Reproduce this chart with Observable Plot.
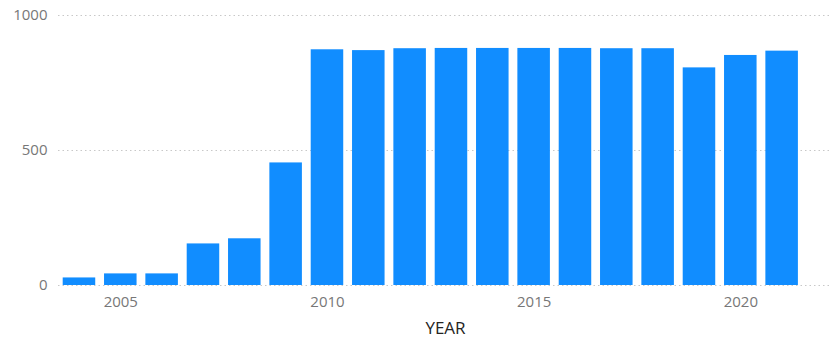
<!DOCTYPE html>
<html>
<head>
<meta charset="utf-8">
<script src="https://cdn.jsdelivr.net/npm/d3@7"></script>
<script src="https://cdn.jsdelivr.net/npm/@observablehq/plot@0.6"></script>
<style>
  html, body { margin: 0; padding: 0; background: #fff; }
  #chart svg { display: block; }
</style>
</head>
<body>
<div id="chart"></div>
<script>
const years = [2004, 2005, 2006, 2007, 2008, 2009, 2010, 2011, 2012, 2013, 2014, 2015, 2016, 2017, 2018, 2019, 2020, 2021];
const values = [28, 43, 43, 154, 173, 454, 873, 870, 877, 878, 878, 878, 878, 877, 877, 806, 852, 868];
const xTicks = [2005, 2010, 2015, 2020];
const yTicks = [0, 500, 1000];

const data = years.map((year, i) => ({year, value: values[i]}));

const chart = Plot.plot({
  width: 832,
  height: 340,
  marginLeft: 58,
  marginRight: 0,
  marginTop: 15,
  marginBottom: 55,
  style: {fontFamily: "'Open Sans', sans-serif", background: "#fff"},
  x: {type: "band", domain: years, range: [62.7, 797.9], paddingInner: 0.213, paddingOuter: 0, round: false},
  y: {domain: [0, 1000]},
  marks: [
    Plot.gridY(yTicks, {stroke: "#c8c8c8", strokeOpacity: 1, strokeDasharray: "1.5,3"}),
    Plot.barY(data, {x: "year", y: "value", fill: "#118DFF"}),
    Plot.axisY({ticks: yTicks, tickSize: 0, tickPadding: 11, tickFormat: d => String(d), label: null, fontSize: 15, color: "#777"}),
    Plot.axisX({ticks: xTicks, tickSize: 0, tickPadding: 11, tickFormat: d => String(d), fontSize: 15, color: "#777", label: null}),
    Plot.axisX({ticks: [], tickSize: 0, label: "YEAR", labelAnchor: "center", labelArrow: "none", labelOffset: 48, fontSize: 17, color: "#252423"})
  ]
});

document.getElementById("chart").appendChild(chart);
</script>
</body>
</html>
